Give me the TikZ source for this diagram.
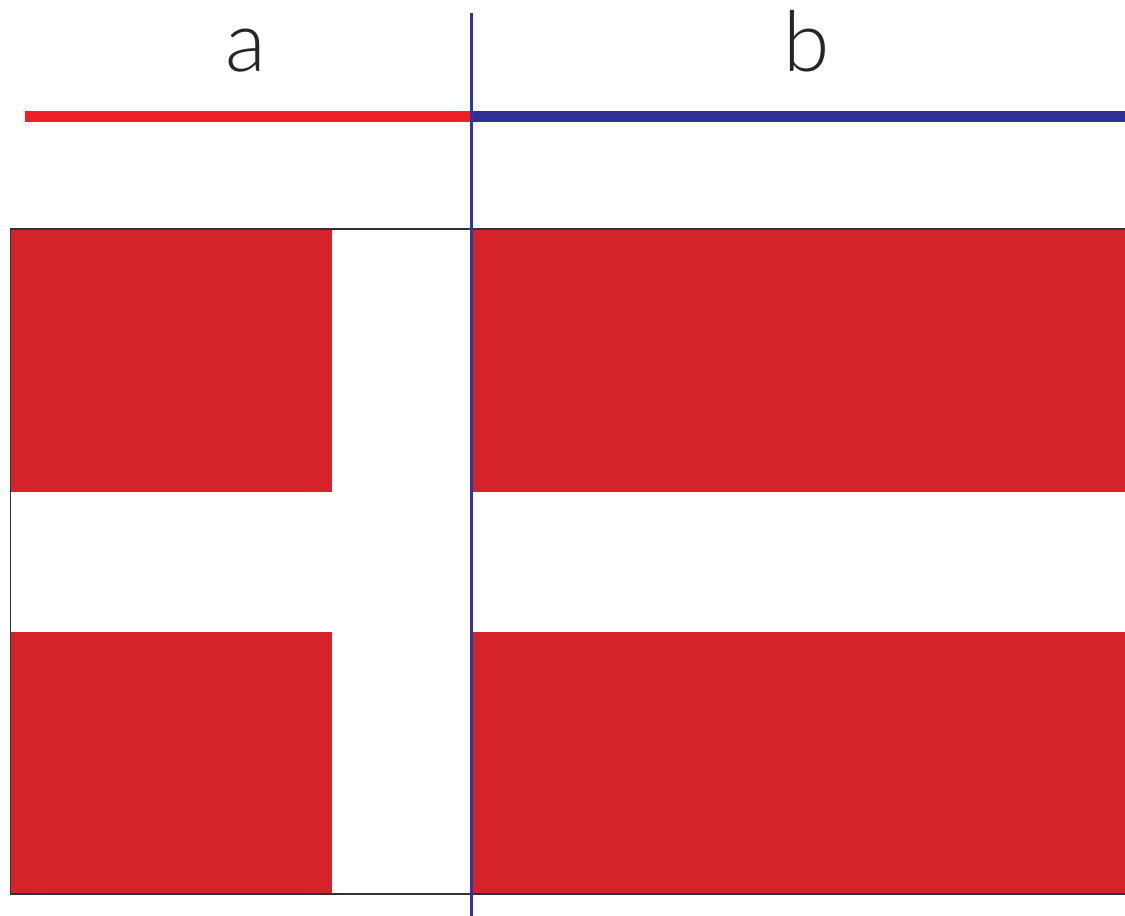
\documentclass[tikz,border=0pt]{standalone}
\usepackage{fontspec}
\setmainfont{Lato Light}
\definecolor{flagred}{RGB}{213,35,42}
\definecolor{linered}{RGB}{238,32,39}
\definecolor{lineblue}{RGB}{46,49,146}
\definecolor{vblue}{RGB}{48,52,160}
\definecolor{edge}{RGB}{50,50,50}
\tikzset{
  lbl/.style={font=\fontsize{84}{84}\selectfont, text=black!85, anchor=base, inner sep=0pt},
  redpart/.style={fill=flagred, draw=none}
}
\begin{document}
\begin{tikzpicture}[x=1pt,y=-1pt]
\useasboundingbox (0,0) rectangle (1125,916);
% labels
\node[lbl] (la) at (246,71) {a};
\node[lbl] (lb) at (807,71) {b};
% top bars
\fill[linered] (25,111) rectangle (471,122);
\fill[lineblue] (471,111) rectangle (1125,122);
% flag
\fill[redpart] (10.5,229) rectangle (332,492);
\fill[redpart] (10.5,632) rectangle (332,894);
\fill[redpart] (471,229) rectangle (1130,492);
\fill[redpart] (471,632) rectangle (1130,894);
\draw[edge, line width=1.5] (1130,229) -- (10.5,229) -- (10.5,894) -- (1130,894);
% divider
\draw[vblue, line width=3] (471.5,13) -- (471.5,916);
\end{tikzpicture}
\end{document}
